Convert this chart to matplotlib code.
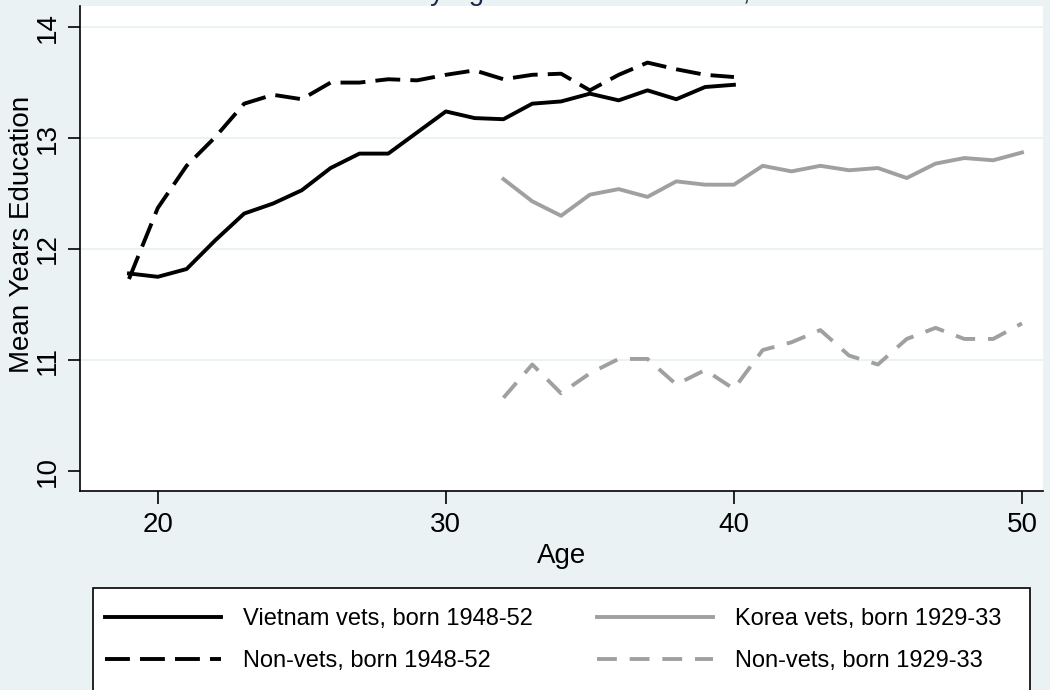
import matplotlib
matplotlib.use('Agg')
import matplotlib.pyplot as plt
from matplotlib.patches import Rectangle

plt.rcParams['font.family'] = ['Liberation Sans', 'DejaVu Sans']

# ages
age_young = list(range(19, 41))
age_old = list(range(32, 51))

# mean years of education
vietnam_vets = [11.78, 11.75, 11.82, 12.08, 12.32, 12.41, 12.53, 12.73, 12.86, 12.86,
                13.05, 13.24, 13.18, 13.17, 13.31, 13.33, 13.40, 13.34, 13.43, 13.35,
                13.46, 13.48]
nonvets_young = [11.73, 12.37, 12.75, 13.01, 13.31, 13.39, 13.35, 13.50, 13.50, 13.53,
                 13.52, 13.57, 13.61, 13.53, 13.57, 13.58, 13.43, 13.57, 13.68, 13.62,
                 13.57, 13.55]
korea_vets = [12.63, 12.43, 12.30, 12.49, 12.54, 12.47, 12.61, 12.58, 12.58, 12.75,
              12.70, 12.75, 12.71, 12.73, 12.64, 12.77, 12.82, 12.80, 12.87]
nonvets_old = [10.66, 10.96, 10.70, 10.88, 11.01, 11.01, 10.78, 10.91, 10.74, 11.09,
               11.16, 11.27, 11.04, 10.96, 11.19, 11.29, 11.19, 11.19, 11.33]

labels = ['Vietnam vets, born 1948-52', 'Non-vets, born 1948-52',
          'Korea vets, born 1929-33', 'Non-vets, born 1929-33']
xticks = [20, 30, 40, 50]
yticks = [10, 11, 12, 13, 14]

bg = '#EAF2F3'
grey = '#A0A0A0'
W, H = 1050, 690

fig = plt.figure(figsize=(10.5, 6.9), dpi=100, facecolor=bg)
ax = fig.add_axes([80 / W, 1 - 491 / H, 963 / W, 485 / H])
ax.set_facecolor('white')

for v in yticks[1:]:
    ax.axhline(v, color=bg, lw=1.5, zorder=0)

lw = 2.8
l1, = ax.plot(age_young, vietnam_vets, color='black', lw=lw)
l2, = ax.plot(age_young, nonvets_young, color='black', lw=lw, dashes=(6.4, 2.6))
l3, = ax.plot(age_old, korea_vets, color=grey, lw=lw)
l4, = ax.plot(age_old, nonvets_old, color=grey, lw=lw, dashes=(5.1, 3.3))

ax.set_xlim(17.3, 50.73)
ax.set_ylim(9.82, 14.19)
ax.set_xticks(xticks)
ax.set_yticks(yticks)
ax.set_yticklabels([str(t) for t in yticks], rotation=90, va='center')
ax.tick_params(axis='both', length=9, width=1.2, color='black', labelsize=20)
ax.tick_params(axis='y', pad=5)
ax.tick_params(axis='x', pad=6)
for s in ['top', 'right']:
    ax.spines[s].set_visible(False)
for s in ['left', 'bottom']:
    ax.spines[s].set_linewidth(1.2)

fig.text(22.5 / W, 1 - 234 / H, 'Mean Years Education', rotation=90,
         ha='center', va='center', fontsize=20)
fig.text(562 / W, 1 - 556 / H, 'Age', ha='center', va='center', fontsize=20)

# title cut off at the top edge
fig.text(560 / W, 1.0, 'Mean Education by Age and Veteran Status, Two Cohorts',
         ha='center', va='baseline', fontsize=20, color='#1A2A4A')

# legend box
fig.patches.append(Rectangle((93 / W, -0.05), (1030 - 93) / W, 0.05 + 1 - 588 / H,
                             transform=fig.transFigure, facecolor='white',
                             edgecolor='black', lw=1.2))
fig.legend([l1, l2, l3, l4], labels, ncol=2, frameon=False,
           loc='upper left', bbox_to_anchor=(105 / W, 1 - 608 / H),
           fontsize=17, handlelength=4.9, handletextpad=0.93,
           columnspacing=2.75, labelspacing=0.85, borderpad=0, borderaxespad=0)

fig.savefig('out.png', dpi=100, facecolor=bg)
